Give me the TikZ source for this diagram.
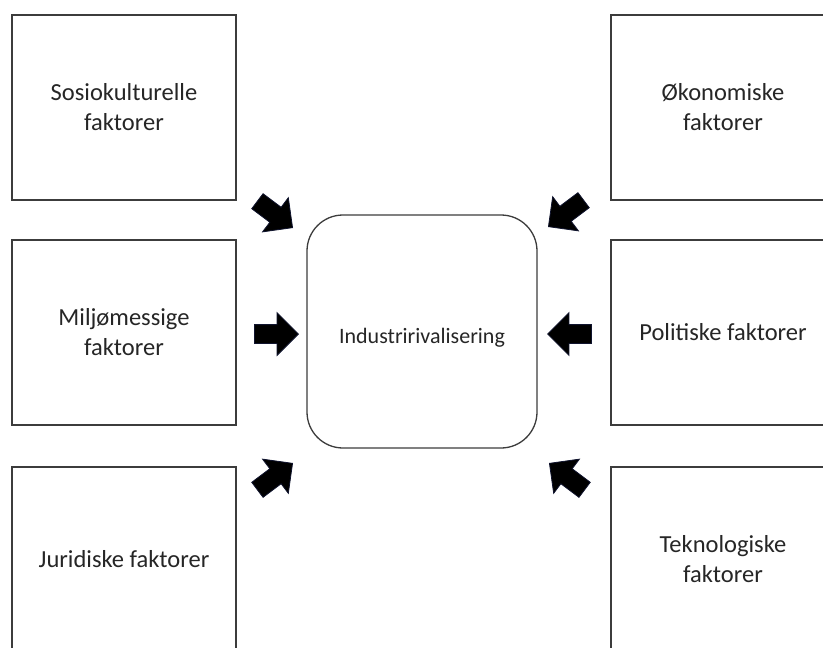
\documentclass[tikz,border=0pt]{standalone}
\usepackage{fontspec}
\setmainfont{Carlito}
\usetikzlibrary{shapes.arrows}
\definecolor{frame}{HTML}{3C3C3C}
\definecolor{ink}{HTML}{262626}
\definecolor{glow}{HTML}{10142E}
\begin{document}
\begin{tikzpicture}[x=1pt,y=-1pt,
  factor/.style={draw=frame, line width=1.3pt, fill=white, rectangle,
    minimum width=224pt, minimum height=185pt, align=center,
    text=ink, font=\fontsize{24.5}{30}\selectfont},
  hub/.style={draw=frame, line width=1.3pt, fill=white, rectangle,
    rounded corners=36pt, minimum width=230pt, minimum height=233pt},
  hubtext/.style={text=ink, font=\fontsize{22}{27}\selectfont},
  blockarrow/.style={single arrow, fill=black, draw=glow, line width=0.8pt,
    inner xsep=0pt, inner ysep=9pt, single arrow head extend=12pt,
    single arrow tip angle=90, minimum height=44pt, anchor=tip}]
  \path[use as bounding box] (0,0) rectangle (823,648);
  \clip (0,0) rectangle (823,648);

  % six outer factor boxes
  \node[factor] (sosio)  at (124,107.5) {Sosiokulturelle\\faktorer};
  \node[factor] (miljo)  at (124,332.5) {Miljømessige\\faktorer};
  \node[factor] (jur)    at (124,559.5) {Juridiske faktorer};
  \node[factor] (okon)   at (723,107.5) {Økonomiske\\faktorer};
  \node[factor] (pol)    at (723,332.5) {Politiske faktorer};
  \node[factor] (tek)    at (723,559.5) {Teknologiske\\faktorer};

  % central rounded box with its title set slightly below the middle
  \node[hub, label={[hubtext, yshift=-6pt]center:Industririvalisering}] (ind) at (422,331.5) {};

  % block arrows pointing at the central box
  \node[blockarrow, rotate=-37] (a1) at (293,228) {};
  \node[blockarrow, rotate=0]   (a2) at (299,334) {};
  \node[blockarrow, rotate=37]  (a3) at (293,463) {};
  \node[blockarrow, rotate=217] (a4) at (548,227) {};
  \node[blockarrow, rotate=180] (a5) at (547,334) {};
  \node[blockarrow, rotate=143] (a6) at (549,463) {};
\end{tikzpicture}
\end{document}
